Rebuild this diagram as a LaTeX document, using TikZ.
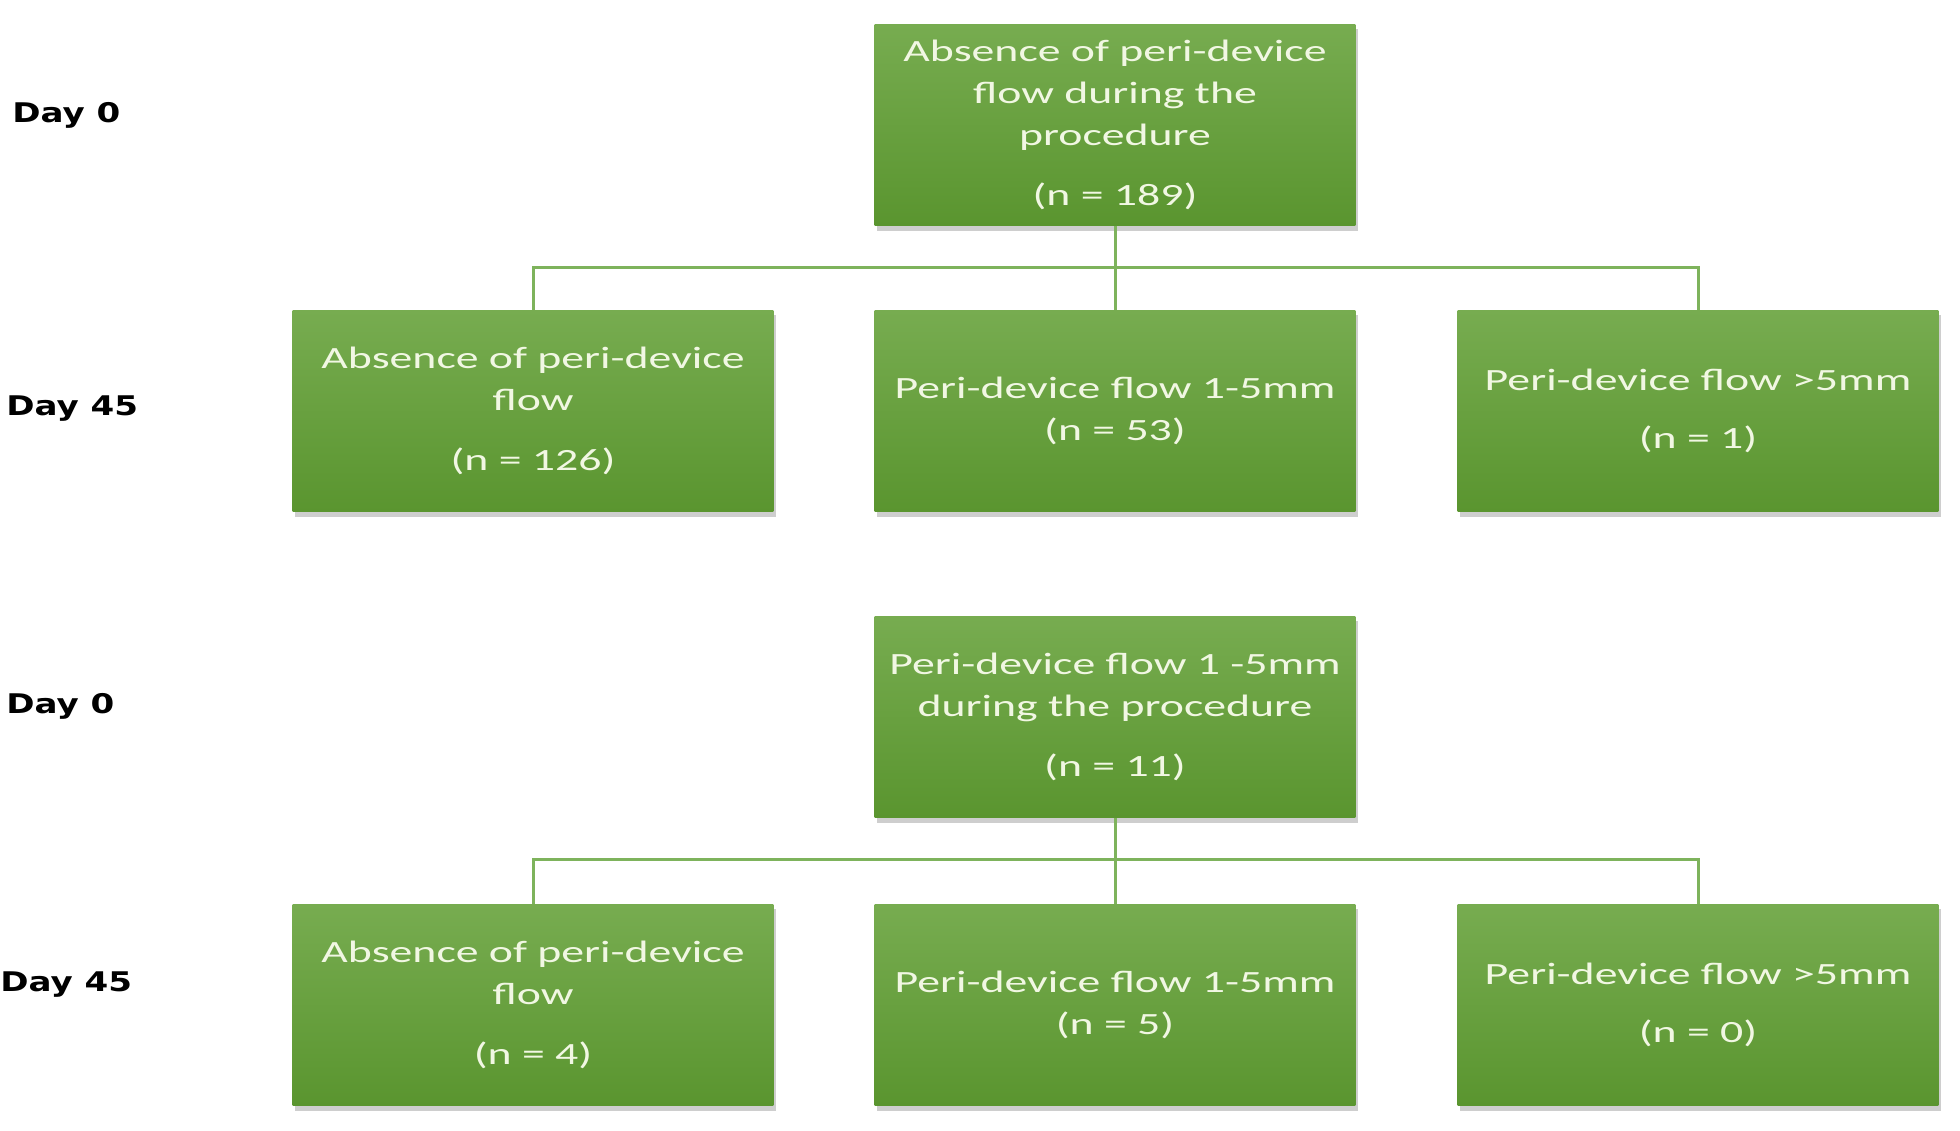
\documentclass[tikz,border=0pt]{standalone}
\usepackage{fontspec}
\newfontfamily\boxfont[FakeStretch=1.48]{Carlito}
\newfontfamily\dayfont[FakeStretch=1.26]{DejaVu Sans}
\usetikzlibrary{shadows}
\definecolor{boxtop}{HTML}{77AC50}
\definecolor{boxbot}{HTML}{5A952F}
\definecolor{boxtext}{HTML}{F1F7E3}
\definecolor{linkgreen}{HTML}{7EB35C}

\begin{document}
\begin{tikzpicture}[x=0.02cm,y=-0.02cm,
        flowbox/.style={minimum width=9.62cm,minimum height=4.04cm,inner sep=0pt,
            top color=boxtop,bottom color=boxbot,text=boxtext,align=center,
            font=\boxfont\fontsize{17.6}{23.9}\selectfont,
            drop shadow={shadow xshift=1.5pt,shadow yshift=-3pt,opacity=0.35,fill=black!55}},
        daylabel/.style={anchor=west,inner sep=0pt,font=\dayfont\bfseries\fontsize{15.4}{18}\selectfont},
        link/.style={linkgreen,line width=1.7pt}]
    \useasboundingbox (0,0) rectangle (1960,1131);
    % first cohort
    \node[daylabel] (day0a) at (12,115) {Day 0};
    \node[daylabel] (day45a) at (6,409) {Day 45};
    \node[flowbox] (topa) at (1115,125) {Absence of peri-device\\flow during the\\procedure\\[10pt](n = 189)};
    \node[flowbox] (absa) at (533,411) {Absence of peri-device\\flow\\[10pt](n = 126)};
    \node[flowbox] (mida) at (1115,411) {Peri-device flow 1-5mm\\(n = 53)};
    \node[flowbox] (biga) at (1698,411) {Peri-device flow >5mm\\[9pt](n = 1)};
    \draw[link] (topa.south) -- ++(0,41) -| (absa.north);
    \draw[link] (topa.south) -- (mida.north);
    \draw[link] (topa.south) -- ++(0,41) -| (biga.north);
    % second cohort
    \node[daylabel] (day0b) at (6,706) {Day 0};
    \node[daylabel] (day45b) at (0,985) {Day 45};
    \node[flowbox] (topb) at (1115,717) {Peri-device flow 1 -5mm\\during the procedure\\[10pt](n = 11)};
    \node[flowbox] (absb) at (533,1005) {Absence of peri-device\\flow\\[10pt](n = 4)};
    \node[flowbox] (midb) at (1115,1005) {Peri-device flow 1-5mm\\(n = 5)};
    \node[flowbox] (bigb) at (1698,1005) {Peri-device flow >5mm\\[9pt](n = 0)};
    \draw[link] (topb.south) -- ++(0,41) -| (absb.north);
    \draw[link] (topb.south) -- (midb.north);
    \draw[link] (topb.south) -- ++(0,41) -| (bigb.north);
\end{tikzpicture}
\end{document}
